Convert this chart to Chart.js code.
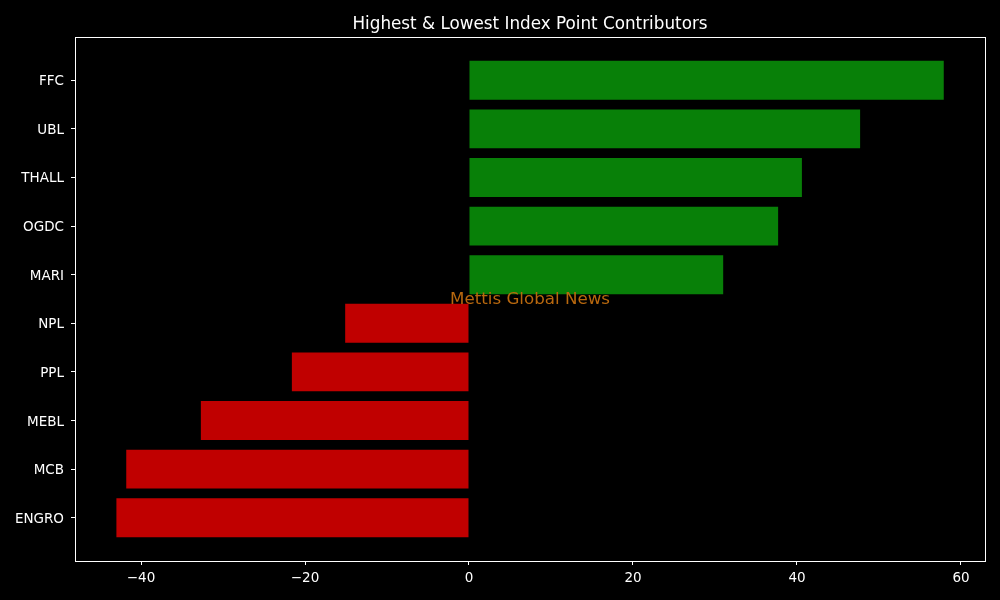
<!DOCTYPE html>
<html>
<head>
<meta charset="utf-8">
<script src="https://cdn.jsdelivr.net/npm/chart.js"></script>
<style>
html,body{margin:0;padding:0;background:#000;}
#wrap{width:1000px;height:600px;position:relative;}
</style>
</head>
<body>
<div id="wrap"><canvas id="c" width="1000" height="600"></canvas></div>
<script>
const categories = ["FFC","UBL","THALL","OGDC","MARI","NPL","PPL","MEBL","MCB","ENGRO"];
const values = [57.9, 47.7, 40.6, 37.7, 31.0, -15.1, -21.6, -32.7, -41.8, -43.0];
const xTicks = [-40, -20, 0, 20, 40, 60];
const titleText = "Highest & Lowest Index Point Contributors";
const watermark = "Mettis Global News";

const FONT = "'DejaVu Sans', sans-serif";

const decor = {
  id: 'decor',
  afterDraw(chart) {
    const {ctx, chartArea: a} = chart;
    ctx.save();
    ctx.strokeStyle = '#ffffff';
    ctx.lineWidth = 1;
    ctx.strokeRect(Math.round(a.left) + 0.5, Math.round(a.top) + 0.5, Math.round(a.right - a.left), Math.round(a.bottom - a.top));
    ctx.fillStyle = '#ffffff';
    ctx.font = "16.8px " + FONT;
    ctx.textAlign = 'center';
    ctx.textBaseline = 'middle';
    ctx.fillText(titleText, (a.left + a.right) / 2, 24.5);
    ctx.fillStyle = '#b8680e';
    ctx.font = "16.7px " + FONT;
    ctx.fillText(watermark, (a.left + a.right) / 2, (a.top + a.bottom) / 2 + 0.5);
    ctx.restore();
  }
};

new Chart(document.getElementById('c'), {
  type: 'bar',
  data: {
    datasets: [{
      data: values.map((v, i) => ({x: v, y: i})),
      backgroundColor: values.map(v => v >= 0 ? '#088008' : '#c00000'),
      borderWidth: 0,
      categoryPercentage: 1,
      barPercentage: 0.8
    }]
  },
  options: {
    indexAxis: 'y',
    responsive: false,
    animation: false,
    layout: {padding: {top: 37, right: 15, left: 0, bottom: 0}},
    plugins: {legend: {display: false}, tooltip: {enabled: false}, title: {display: false}},
    scales: {
      x: {
        type: 'linear',
        min: -48.05,
        max: 62.93,
        afterBuildTicks: s => { s.ticks = xTicks.map(v => ({value: v})); },
        afterFit: s => { s.height = 39; },
        border: {display: false},
        grid: {drawOnChartArea: false, drawTicks: true, tickLength: 4, color: '#ffffff'},
        ticks: {
          color: '#ffffff',
          font: {family: FONT, size: 13.5},
          padding: 5,
          maxRotation: 0,
          callback: v => v < 0 ? '\u2212' + Math.abs(v) : String(v)
        }
      },
      y: {
        type: 'linear',
        reverse: true,
        offset: false,
        min: -0.89,
        max: 9.89,
        afterBuildTicks: s => { s.ticks = categories.map((c, i) => ({value: i})); },
        afterFit: s => { s.width = 75; },
        border: {display: false},
        grid: {drawOnChartArea: false, drawTicks: true, tickLength: 4, color: '#ffffff', offset: false},
        ticks: {
          color: '#ffffff',
          font: {family: FONT, size: 13.5},
          padding: 7,
          labelOffset: 1.5,
          autoSkip: false,
          callback: v => categories[v]
        }
      }
    }
  },
  plugins: [decor]
});
</script>
</body>
</html>
